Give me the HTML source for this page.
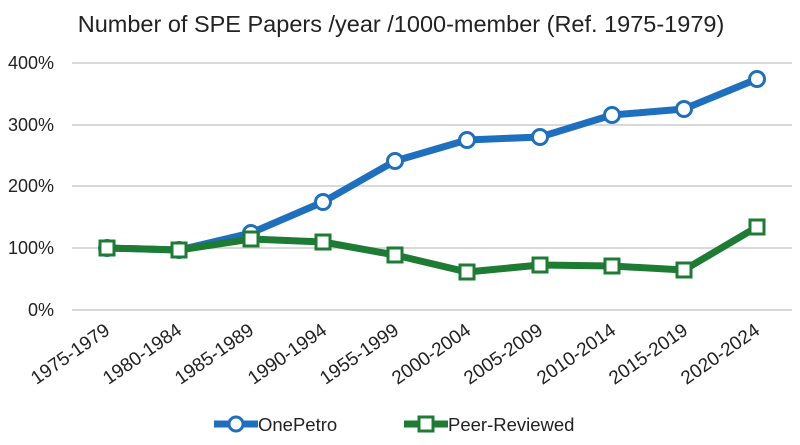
<!DOCTYPE html>
<html><head><meta charset="utf-8"><style>
html,body{margin:0;padding:0;background:#fff;}
svg{display:block;font-family:"Liberation Sans",Calibri,sans-serif;}
</style></head><body>
<svg width="800" height="445" viewBox="0 0 800 445" xmlns="http://www.w3.org/2000/svg">
<rect width="800" height="445" fill="#fff"/>
<text x="401" y="32" text-anchor="middle" font-size="23.5" fill="#222">Number of SPE Papers /year /1000-member (Ref. 1975-1979)</text>
<g stroke="#d9d9d9" stroke-width="2">
<line x1="72" y1="63" x2="792" y2="63"/>
<line x1="72" y1="125" x2="792" y2="125"/>
<line x1="72" y1="186" x2="792" y2="186"/>
<line x1="72" y1="248" x2="792" y2="248"/>
<line x1="72" y1="310" x2="792" y2="310"/>
</g>
<g font-size="18" fill="#222" text-anchor="end">
<text x="54" y="69">400%</text>
<text x="54" y="131">300%</text>
<text x="54" y="192">200%</text>
<text x="54" y="254">100%</text>
<text x="54" y="316">0%</text>
</g>
<g font-size="19" fill="#222" text-anchor="end">
<text transform="translate(111,333) rotate(-35)">1975-1979</text>
<text transform="translate(183,333) rotate(-35)">1980-1984</text>
<text transform="translate(255,333) rotate(-35)">1985-1989</text>
<text transform="translate(328,333) rotate(-35)">1990-1994</text>
<text transform="translate(400,333) rotate(-35)">1955-1999</text>
<text transform="translate(472,333) rotate(-35)">2000-2004</text>
<text transform="translate(544,333) rotate(-35)">2005-2009</text>
<text transform="translate(617,333) rotate(-35)">2010-2014</text>
<text transform="translate(689,333) rotate(-35)">2015-2019</text>
<text transform="translate(761,333) rotate(-35)">2020-2024</text>
</g>
<polyline fill="none" stroke="#1f6fbf" stroke-width="7" stroke-linejoin="round" points="107,248 179,250 251,233 323,202 395,161 467,140 540,137 612,115 684,109 757,79"/>
<g fill="#fff" stroke="#1f6fbf" stroke-width="3">
<circle cx="107" cy="248" r="7.5"/><circle cx="179" cy="250" r="7.5"/><circle cx="251" cy="233" r="7.5"/><circle cx="323" cy="202" r="7.5"/><circle cx="395" cy="161" r="7.5"/><circle cx="467" cy="140" r="7.5"/><circle cx="540" cy="137" r="7.5"/><circle cx="612" cy="115" r="7.5"/><circle cx="684" cy="109" r="7.5"/><circle cx="757" cy="79" r="7.5"/>
</g>
<polyline fill="none" stroke="#1e7b34" stroke-width="7" stroke-linejoin="round" points="107,248 179,250 251,239 323,242 395,255 467,272 540,265 612,266 684,270 757,227"/>
<g fill="#fff" stroke="#1e7b34" stroke-width="3">
<rect x="100" y="241" width="14" height="14"/><rect x="172" y="243" width="14" height="14"/><rect x="244" y="232" width="14" height="14"/><rect x="316" y="235" width="14" height="14"/><rect x="388" y="248" width="14" height="14"/><rect x="460" y="265" width="14" height="14"/><rect x="533" y="258" width="14" height="14"/><rect x="605" y="259" width="14" height="14"/><rect x="677" y="263" width="14" height="14"/><rect x="750" y="220" width="14" height="14"/>
</g>
<line x1="214" y1="424" x2="258" y2="424" stroke="#1f6fbf" stroke-width="7"/>
<circle cx="236" cy="424" r="7" fill="#fff" stroke="#1f6fbf" stroke-width="3"/>
<text x="258" y="431" font-size="18.5" fill="#222">OnePetro</text>
<line x1="404" y1="424" x2="448" y2="424" stroke="#1e7b34" stroke-width="7"/>
<rect x="419" y="417" width="14" height="14" fill="#fff" stroke="#1e7b34" stroke-width="3"/>
<text x="448" y="431" font-size="18.5" fill="#222">Peer-Reviewed</text>
</svg>
</body></html>
